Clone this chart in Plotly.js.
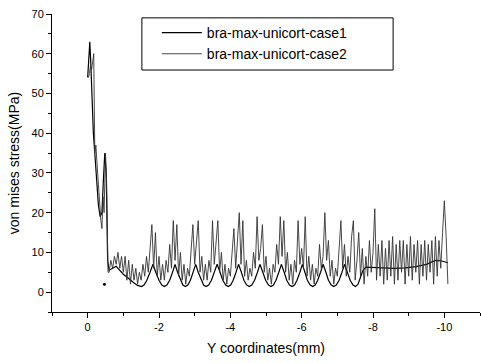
<!DOCTYPE html>
<html>
<head>
<meta charset="utf-8">
<script src="https://cdn.plot.ly/plotly-3.0.1.min.js"></script>
<style>html,body{margin:0;padding:0;background:#fff;}#chart{width:481px;height:363px;}</style>
</head>
<body>
<div id="chart"></div>
<script>
// ---- data ----
const seriesNames = ["bra-max-unicort-case1", "bra-max-unicort-case2"];

const case1X = [0, -0.03, -0.06, -0.09, -0.12, -0.16, -0.2, -0.25, -0.3, -0.35, -0.4, -0.44, -0.48, -0.52, -0.56, -0.6,
  -0.7, -0.8, -0.9, -1.0, -1.1, -1.2, -1.3, -1.4, -1.51, -1.58, -1.66, -1.75, -1.83, -1.91, -2.00, -2.08, -2.15,
  -2.22, -2.30, -2.38, -2.45, -2.52, -2.60, -2.67, -2.74, -2.81, -2.88, -2.96, -3.03, -3.10, -3.18, -3.25, -3.32,
  -3.39, -3.47, -3.55, -3.63, -3.71, -3.79, -3.87, -3.94, -4.01, -4.08, -4.16, -4.23, -4.31, -4.38, -4.46, -4.53,
  -4.60, -4.68, -4.76, -4.83, -4.91, -4.99, -5.07, -5.14, -5.21, -5.28, -5.36, -5.43, -5.51, -5.58, -5.66, -5.73,
  -5.80, -5.87, -5.95, -6.02, -6.09, -6.16, -6.24, -6.31, -6.38, -6.45, -6.53, -6.60, -6.68, -6.75, -6.83, -6.90,
  -6.97, -7.05, -7.13, -7.20, -7.28, -7.36, -7.44, -7.51, -7.58, -7.65, -7.72, -7.80, -8.00, -8.30, -8.60, -8.90,
  -9.20, -9.50, -9.75, -9.90, -10.05, -10.10];
const case1Y = [54, 58, 63, 57, 48, 40, 35, 28, 22, 19, 20, 28, 35, 30, 8, 5.5,
  6, 6.5, 5.5, 4.5, 3.8, 3, 2.3, 1.7, 1.4, 1.8, 3.0, 5.0, 7.0, 5.0, 3.0, 1.8, 1.4,
  1.8, 3.0, 5.0, 7.0, 5.0, 3.0, 1.8, 1.4, 1.8, 3.0, 5.0, 7.0, 5.0, 3.0, 1.8, 1.4,
  1.8, 3.0, 5.0, 7.0, 5.0, 3.0, 1.8, 1.4, 1.8, 3.0, 5.0, 7.0, 5.0, 3.0, 1.8, 1.4,
  1.8, 3.0, 5.0, 7.0, 5.0, 3.0, 1.8, 1.4, 1.8, 3.0, 5.0, 7.0, 5.0, 3.0, 1.8, 1.4,
  1.8, 3.0, 5.0, 7.0, 5.0, 3.0, 1.8, 1.4, 1.8, 3.0, 5.0, 7.0, 5.0, 3.0, 1.8, 1.4,
  1.8, 3.0, 5.0, 7.0, 5.0, 3.0, 1.8, 1.4, 2.0, 3.8, 5.5, 6.3, 6.2, 6.0, 6.0, 6.1,
  6.4, 7.0, 8.0, 7.9, 7.5, 7.4];

const case2X = [-0.02, -0.05, -0.08, -0.11, -0.14, -0.17, -0.2, -0.23, -0.28, -0.33, -0.37, -0.4, -0.43, -0.46, -0.5, -0.53, -0.57,
  -0.60, -0.65, -0.70, -0.75, -0.80, -0.85, -0.90, -0.95, -1.00, -1.05, -1.10, -1.15, -1.20, -1.25, -1.30, -1.35,
  -1.40, -1.45, -1.50, -1.55, -1.60, -1.65, -1.70, -1.75, -1.80, -1.85, -1.90, -1.95, -2.00, -2.05, -2.10, -2.15,
  -2.20, -2.25, -2.30, -2.35, -2.40, -2.45, -2.50, -2.55, -2.60, -2.65, -2.70, -2.75, -2.80, -2.85, -2.90, -2.95,
  -3.00, -3.05, -3.10, -3.15, -3.20, -3.25, -3.30, -3.35, -3.40, -3.45, -3.50, -3.55, -3.60, -3.65, -3.70, -3.75,
  -3.80, -3.85, -3.90, -3.95, -4.00, -4.05, -4.10, -4.15, -4.20, -4.25, -4.30, -4.35, -4.40, -4.45, -4.50, -4.55,
  -4.60, -4.65, -4.70, -4.75, -4.80, -4.85, -4.90, -4.95, -5.00, -5.05, -5.10, -5.15, -5.20, -5.25, -5.30, -5.35,
  -5.40, -5.45, -5.50, -5.55, -5.60, -5.65, -5.70, -5.75, -5.80, -5.85, -5.90, -5.95, -6.00, -6.05, -6.10, -6.15,
  -6.20, -6.25, -6.30, -6.35, -6.40, -6.45, -6.50, -6.55, -6.60, -6.65, -6.70, -6.75, -6.80, -6.85, -6.90, -6.95,
  -7.00, -7.05, -7.10, -7.15, -7.20, -7.25, -7.30, -7.35, -7.40, -7.45, -7.50, -7.55, -7.60, -7.65, -7.70, -7.75,
  -7.80, -7.85, -7.90, -7.95, -8.00, -8.05, -8.10, -8.15, -8.20, -8.25, -8.30, -8.35, -8.40, -8.45, -8.50, -8.55,
  -8.60, -8.65, -8.70, -8.75, -8.80, -8.85, -8.90, -8.95, -9.00, -9.05, -9.10, -9.15, -9.20, -9.25, -9.30, -9.35,
  -9.40, -9.45, -9.50, -9.55, -9.60, -9.65, -9.70, -9.75, -9.80, -9.85, -9.90, -9.95, -10.00, -10.05, -10.10];
const case2Y = [54, 55, 57, 56, 58, 60, 35, 37, 30, 22, 18, 16, 24, 20, 35, 28, 5,
  5, 8, 6, 9, 7, 10, 6, 9, 5, 9, 3, 8, 2, 7, 3, 6,
  2, 5, 3, 7, 4, 9, 5, 12, 17, 6, 15, 4, 9, 3, 7, 3,
  8, 5, 12, 6, 18, 8, 17, 4, 10, 3, 7, 2, 6, 4, 11, 17,
  7, 12, 18, 5, 9, 3, 7, 3, 8, 5, 18, 7, 12, 18, 5, 10,
  3, 7, 2, 6, 4, 9, 16, 6, 12, 20, 7, 18, 4, 8, 3, 6,
  4, 10, 6, 19, 8, 11, 17, 5, 9, 3, 6, 2, 7, 5, 12, 7,
  19, 9, 18, 5, 10, 3, 7, 2, 8, 5, 18, 7, 11, 6, 19, 4,
  9, 3, 7, 2, 6, 4, 12, 6, 9, 20, 8, 13, 4, 8, 2, 6,
  4, 11, 18, 6, 12, 4, 9, 5, 14, 18, 3, 8, 15, 4, 11, 2,
  9, 4, 13, 5, 10, 21, 3, 12, 4, 13, 2, 11, 3, 13, 4, 14,
  2, 12, 3, 13, 5, 13, 2, 12, 4, 14, 3, 12, 5, 13, 2, 12,
  4, 13, 3, 12, 5, 13, 2, 14, 4, 13, 6, 15, 23, 14, 2];

const strayX = [-0.47];
const strayY = [2];

const xTickVals = [0, -2, -4, -6, -8, -10];
const xTickText = ["0", "-2", "-4", "-6", "-8", "-10"];
const yTickVals = [0, 10, 20, 30, 40, 50, 60, 70];
const yTickText = ["0", "10", "20", "30", "40", "50", "60", "70"];

// ---- chart ----
const traces = [
  {x: case1X, y: case1Y, type: "scatter", mode: "lines", name: seriesNames[0],
   line: {color: "#000000", width: 1.2}},
  {x: case2X, y: case2Y, type: "scatter", mode: "lines", name: seriesNames[1],
   line: {color: "#333333", width: 0.9}},
  {x: strayX, y: strayY, type: "scatter", mode: "markers", showlegend: false,
   marker: {color: "#000", size: 3}}
];

const font = {family: "Liberation Sans, Arial, sans-serif", color: "#000"};

const layout = {
  width: 481, height: 363,
  margin: {l: 52, r: 1, t: 14, b: 51},
  paper_bgcolor: "#fff", plot_bgcolor: "#fff",
  font: Object.assign({size: 11}, font),
  showlegend: true,
  legend: {x: 0.245, y: 0.99, xanchor: "left", yanchor: "top",
    bgcolor: "rgba(0,0,0,0)", borderwidth: 0,
    font: Object.assign({size: 14}, font), itemwidth: 40, tracegroupgap: 0},
  shapes: [{type: "rect", xref: "paper", yref: "paper", x0: 0.210, x1: 0.797, y0: 0.812, y1: 0.987,
    line: {color: "#000", width: 1}, fillcolor: "rgba(0,0,0,0)"}],
  xaxis: {
    range: [1, -11], showgrid: false, zeroline: false,
    showline: true, linecolor: "#000", linewidth: 1, mirror: false,
    tickmode: "array", tickvals: xTickVals, ticktext: xTickText,
    ticks: "outside", ticklen: 5, tickcolor: "#000", tickwidth: 1,
    minor: {dtick: 1, tick0: 0, ticks: "outside", ticklen: 3, tickcolor: "#000"},
    tickfont: Object.assign({size: 11}, font),
    title: {text: "Y coordinates(mm)", font: Object.assign({size: 14}, font), standoff: 10}
  },
  yaxis: {
    range: [-5, 70], showgrid: false, zeroline: false,
    showline: true, linecolor: "#000", linewidth: 1, mirror: false,
    tickmode: "array", tickvals: yTickVals, ticktext: yTickText,
    ticks: "outside", ticklen: 5, tickcolor: "#000", tickwidth: 1,
    minor: {dtick: 5, tick0: 0, ticks: "outside", ticklen: 3, tickcolor: "#000"},
    tickfont: Object.assign({size: 11}, font),
    title: {text: "von mises stress(MPa)", font: Object.assign({size: 14}, font), standoff: 8}
  }
};

Plotly.newPlot("chart", traces, layout, {displayModeBar: false, staticPlot: true});
</script>
</body>
</html>
